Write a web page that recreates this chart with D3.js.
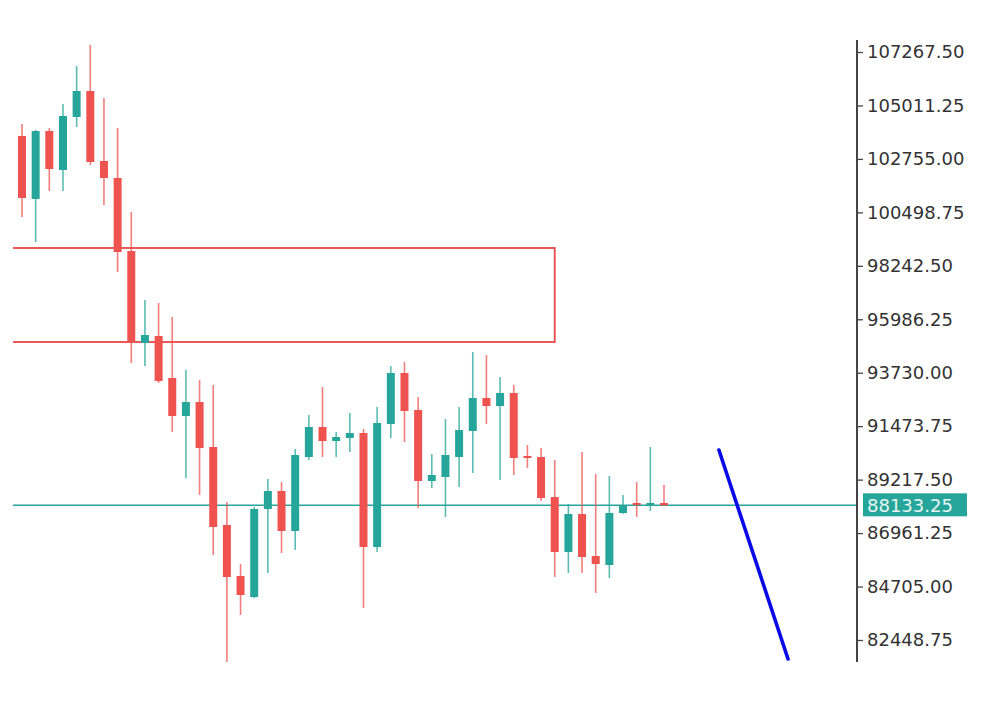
<!DOCTYPE html>
<html>
<head>
<meta charset="utf-8">
<script src="https://cdn.jsdelivr.net/npm/d3@7"></script>
<style>
  html, body { margin: 0; padding: 0; background: #ffffff; }
  svg { display: block; }
</style>
</head>
<body>
<svg id="chart" width="1000" height="712"></svg>
<script>
// ---- data ----
const opens  = [103722,101063,103933,102287,104524,105621,102667,101950,98868,94985,95280,93507,91903,92494,90594,87302,85150,84264,87978,88738,87050,90173,91439,90848,90975,91186,86374,91566,93719,92157,89160,89329,90173,91270,92663,92325,92874,90215,90173,88484,86163,87767,85994,85614,87809,88231,88146,88231];
const highs  = [104228,103980,104060,105073,106677,107563,105326,104060,100514,96800,96673,96082,93845,93422,93211,88273,85656,88060,89244,89118,90511,91946,93127,91228,92030,91355,92283,94014,94183,92706,90300,91777,92283,94605,94478,93550,93211,90680,90552,90046,88189,90384,89455,89371,88568,89118,90594,88991];
const lows   = [100303,99248,101400,101400,104102,102498,100810,97982,94140,94014,93296,91228,89286,88568,86036,81520,83504,84220,85277,86121,86247,90046,90173,90173,90384,83800,86163,90975,90806,88020,88864,87640,88906,89497,91566,89202,89413,89708,88316,85108,85277,85277,84432,85065,87780,87640,87893,88100];
const closes = [101105,103933,102329,104566,105621,102625,101950,98826,95027,95322,93381,91903,92494,90552,87218,85108,84348,87978,88738,87050,90257,91439,90848,91017,91186,86374,91608,93719,92115,89160,89413,90257,91312,92663,92325,92874,90131,90131,88442,86163,87767,85952,85656,87809,88146,88146,88231,88133.25];
const candleIndex = d3.range(opens.length);

const tickLabels = ["107267.50","105011.25","102755.00","100498.75","98242.50","95986.25","93730.00","91473.75","89217.50","86961.25","84705.00","82448.75"];
const currentPrice = 88133.25;

// supply zone (price bounds, start/end candle index)
const zoneTop = 98995, zoneBottom = 95027;
const zoneStartIndex = -2, zoneEndIndex = 39;

// trend line (candle index, price)
const trendX = [51.02, 56.08];
const trendY = [90468, 81646];

// ---- layout ----
const plotLeft = 13, axisX = 857, plotTop = 40, plotBottom = 662;
const UP = "#26a69a", DOWN = "#ef5350";

const svg = d3.select("#chart");

const tickValues = tickLabels.map(Number);
const y = d3.scaleLinear()
  .domain([d3.min(tickValues), d3.max(tickValues)])
  .range([640, 52]);

const x = d3.scaleLinear()
  .domain([0, opens.length - 1])
  .range([22, 664]);

svg.append("defs").append("clipPath").attr("id", "plotClip")
  .append("rect")
  .attr("x", plotLeft).attr("y", 0)
  .attr("width", axisX - plotLeft).attr("height", 712);

const plot = svg.append("g").attr("clip-path", "url(#plotClip)");

// zone rectangle
plot.append("rect")
  .attr("x", x(zoneStartIndex))
  .attr("y", y(zoneTop))
  .attr("width", x(zoneEndIndex) - x(zoneStartIndex))
  .attr("height", y(zoneBottom) - y(zoneTop))
  .attr("fill", "none")
  .attr("stroke", "#e8474a")
  .attr("stroke-width", 1.8);

// current price line
plot.append("line")
  .attr("x1", plotLeft).attr("x2", axisX)
  .attr("y1", y(currentPrice)).attr("y2", y(currentPrice))
  .attr("stroke", UP).attr("stroke-width", 1.6);

// candles
const candles = plot.selectAll("g.candle")
  .data(candleIndex)
  .join("g").attr("class", "candle");

candles.append("line")
  .attr("x1", i => x(i)).attr("x2", i => x(i))
  .attr("y1", i => y(highs[i])).attr("y2", i => y(lows[i]))
  .attr("stroke", i => closes[i] >= opens[i] ? UP : DOWN)
  .attr("stroke-opacity", 0.75)
  .attr("stroke-width", 1.6);

const bodyW = 8;
candles.append("rect")
  .attr("x", i => x(i) - bodyW / 2)
  .attr("width", bodyW)
  .attr("y", i => y(Math.max(opens[i], closes[i])))
  .attr("height", i => Math.max(2, Math.abs(y(opens[i]) - y(closes[i]))))
  .attr("fill", i => closes[i] >= opens[i] ? UP : DOWN);

// trend line
svg.append("line")
  .attr("x1", x(trendX[0])).attr("y1", y(trendY[0]))
  .attr("x2", x(trendX[1])).attr("y2", y(trendY[1]))
  .attr("stroke", "#0a0ae6")
  .attr("stroke-width", 3.6)
  .attr("stroke-linecap", "round");

// axis
const axis = d3.axisRight(y)
  .tickValues(tickValues)
  .tickFormat((d, i) => tickLabels[i])
  .tickSize(6)
  .tickPadding(4);

const ag = svg.append("g")
  .attr("transform", `translate(${axisX},0)`)
  .call(axis);
ag.select(".domain").remove();
ag.selectAll(".tick line").attr("stroke", "#444").attr("stroke-width", 1.3);
ag.selectAll(".tick text")
  .attr("fill", "#333")
  .style("font-family", "'DejaVu Sans', Verdana, sans-serif")
  .style("font-size", "18px");
ag.append("line")
  .attr("x1", 0).attr("x2", 0)
  .attr("y1", plotTop).attr("y2", plotBottom)
  .attr("stroke", "#444").attr("stroke-width", 2);

// price label
const pl = svg.append("g").attr("transform", `translate(${axisX + 6},${y(currentPrice)})`);
pl.append("rect")
  .attr("x", 0).attr("y", -12)
  .attr("width", 104).attr("height", 23)
  .attr("fill", UP);
pl.append("text")
  .attr("x", 4).attr("y", 0).attr("dy", "0.35em")
  .attr("fill", "#e8f6f4")
  .style("font-family", "'DejaVu Sans', Verdana, sans-serif")
  .style("font-size", "18px")
  .text(currentPrice.toFixed(2));
</script>
</body>
</html>
